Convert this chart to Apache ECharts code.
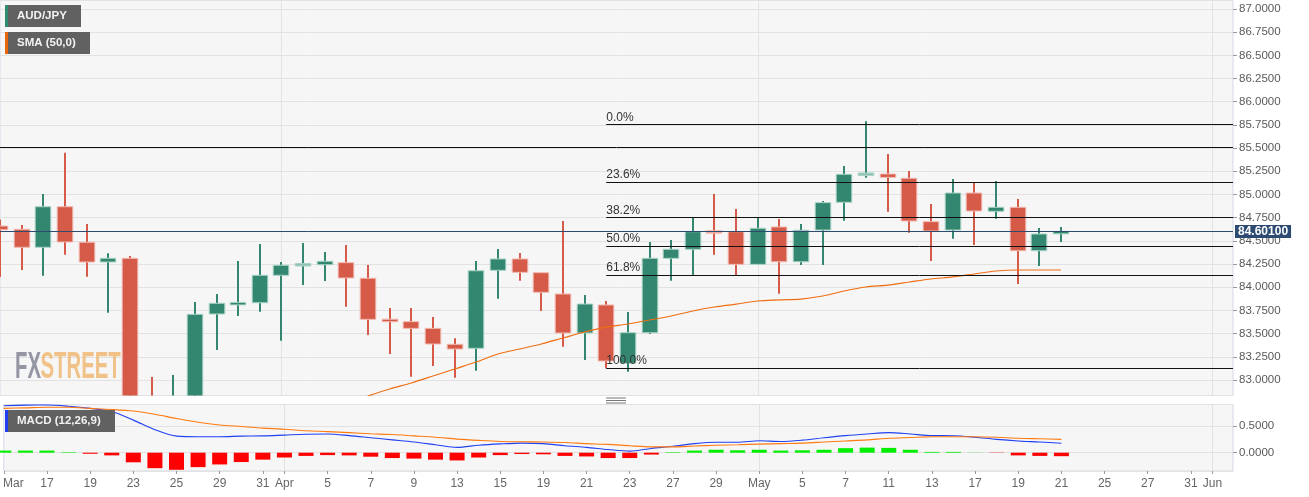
<!DOCTYPE html>
<html><head><meta charset="utf-8">
<script src="https://cdn.jsdelivr.net/npm/echarts@6/dist/echarts.min.js"></script>
<style>html,body{margin:0;padding:0;background:#ffffff;}#c{width:1309px;height:497px;}</style>
</head><body><div id="c"></div>
<script>
// ---------- DATA ----------
const dates = ['2021-03-15','2021-03-16','2021-03-17','2021-03-18','2021-03-19','2021-03-22','2021-03-23','2021-03-24','2021-03-25','2021-03-26',
'2021-03-29','2021-03-30','2021-03-31','2021-04-01','2021-04-02','2021-04-05','2021-04-06','2021-04-07','2021-04-08','2021-04-09',
'2021-04-12','2021-04-13','2021-04-14','2021-04-15','2021-04-16','2021-04-19','2021-04-20','2021-04-21','2021-04-22','2021-04-23',
'2021-04-26','2021-04-27','2021-04-28','2021-04-29','2021-04-30','2021-05-03','2021-05-04','2021-05-05','2021-05-06','2021-05-07',
'2021-05-10','2021-05-11','2021-05-12','2021-05-13','2021-05-14','2021-05-17','2021-05-18','2021-05-19','2021-05-20','2021-05-21',
'2021-05-24','2021-05-25','2021-05-26','2021-05-27','2021-05-28','2021-05-31','2021-06-01'];

const open  = [84.66,84.625,84.431,84.868,84.485,84.272,84.312,82.70,82.45,82.62,
83.712,83.815,83.833,84.129,84.240,84.243,84.265,84.097,83.654,83.629,
83.557,83.385,83.342,84.183,84.305,84.157,83.927,83.507,83.809,83.180,
83.510,84.312,84.409,84.600,84.599,84.247,84.650,84.275,84.617,84.916,
85.215,85.221,85.175,84.707,84.617,85.016,84.819,84.862,84.394,84.577];
const close = [84.62,84.431,84.868,84.488,84.272,84.312,82.70,82.45,82.62,83.708,
83.827,83.832,84.129,84.237,84.246,84.280,84.100,83.654,83.630,83.557,
83.388,83.334,84.178,84.305,84.161,83.946,83.507,83.819,83.205,83.510,
84.312,84.409,84.599,84.592,84.247,84.636,84.275,84.614,84.912,85.218,
85.222,85.185,84.714,84.607,85.016,84.822,84.862,84.394,84.574,84.601];
const low   = [84.11,84.186,84.125,84.351,84.114,83.726,82.55,82.30,82.20,82.50,
83.323,83.690,83.736,83.424,84.024,84.067,83.790,83.485,83.280,83.036,
83.151,83.025,83.100,83.877,84.071,83.744,83.359,83.216,83.126,83.090,
83.496,84.071,84.132,84.351,84.132,84.247,83.931,84.240,84.240,84.718,
85.181,84.815,84.588,84.283,84.523,84.455,84.739,84.035,84.229,84.488];
const high  = [84.73,84.671,85.005,85.451,84.682,84.366,84.337,83.032,83.054,83.841,
83.927,84.283,84.466,84.272,84.477,84.380,84.455,84.240,83.776,83.776,
83.679,83.450,84.283,84.412,84.369,84.160,84.714,83.916,83.852,83.733,
84.488,84.509,84.750,85.005,84.844,84.750,84.736,84.682,84.930,85.307,
85.790,85.437,85.253,84.898,85.167,85.127,85.146,84.951,84.639,84.650];

const smaStartDate = '2021-04-05';
const sma50 = [82.633,82.730,82.827,82.903,82.968,83.043,83.119,83.194,83.280,83.334,
83.388,83.453,83.518,83.571,83.604,83.647,83.690,83.744,83.787,83.819,
83.852,83.863,83.873,83.906,83.960,84.003,84.024,84.057,84.089,84.111,
84.143,84.175,84.186,84.186,84.186];

const macdLine = [0.88,0.89,0.893,0.87,0.83,0.77,0.61,0.43,0.31,0.30,
0.30,0.31,0.315,0.33,0.345,0.35,0.32,0.28,0.24,0.20,
0.15,0.10,0.14,0.165,0.18,0.17,0.13,0.10,0.06,0.03,
0.08,0.12,0.17,0.195,0.195,0.225,0.21,0.235,0.28,0.32,
0.35,0.375,0.35,0.32,0.318,0.29,0.25,0.22,0.20,0.176];
const signalLine = [0.83,0.84,0.85,0.85,0.83,0.81,0.78,0.72,0.64,0.57,
0.52,0.49,0.46,0.44,0.41,0.395,0.375,0.355,0.34,0.315,
0.29,0.255,0.23,0.21,0.205,0.20,0.19,0.17,0.155,0.13,
0.11,0.11,0.125,0.14,0.15,0.16,0.17,0.18,0.20,0.22,
0.24,0.27,0.285,0.30,0.30,0.30,0.29,0.27,0.26,0.25];
const histogram = [0.04,0.04,0.04,0.01,-0.02,-0.05,-0.18,-0.29,-0.32,-0.27,
-0.22,-0.175,-0.13,-0.09,-0.06,-0.045,-0.05,-0.075,-0.10,-0.11,
-0.13,-0.145,-0.09,-0.045,-0.025,-0.03,-0.06,-0.07,-0.10,-0.10,
-0.035,0.01,0.04,0.055,0.045,0.055,0.04,0.045,0.055,0.085,
0.095,0.09,0.055,0.015,0.015,0.003,-0.005,-0.05,-0.06,-0.065];

const tickDates = ['2021-03-15','2021-03-17','2021-03-19','2021-03-23','2021-03-25','2021-03-29','2021-03-31','2021-04-01',
'2021-04-05','2021-04-07','2021-04-09','2021-04-13','2021-04-15','2021-04-19','2021-04-21','2021-04-23','2021-04-27',
'2021-04-29','2021-05-03','2021-05-05','2021-05-07','2021-05-11','2021-05-13','2021-05-17','2021-05-19','2021-05-21',
'2021-05-25','2021-05-27','2021-05-31','2021-06-01'];
const tickTexts = ['Mar','17','19','23','25','29','31','Apr','5','7','9','13','15','19','21','23','27','29','May','5','7','11','13','17','19','21','25','27','31','Jun'];
const monthStarts = ['2021-04-01','2021-05-03','2021-06-01'];

const fibHigh = 85.757, fibLow = 83.129;
const fibRatios = [0, 0.236, 0.382, 0.5, 0.618, 1.0];
const fibLabels = ['0.0%','23.6%','38.2%','50.0%','61.8%','100.0%'];
const fibStartDate = '2021-04-22';
const extraLevel = 85.509;
const lastPrice = 84.601;

// ---------- BUILD ----------
const idx = d => dates.indexOf(d);
const candleData = open.map((o, i) => [i, o, close[i], low[i], high[i]]);
const s0 = idx(smaStartDate);
const smaData = sma50.map((v, i) => [s0 + i, v]);
const macdData = macdLine.map((v, i) => [i, v]);
const sigData = signalLine.map((v, i) => [i, v]);
const histData = histogram.map((v, i) => [i, v]);
const tickVals = tickDates.map(idx);
const labelVals = tickVals.slice(); labelVals[0] = labelVals[0] + 0.44;
const labelMap = {}; tickVals.forEach((v, i) => labelMap[v] = tickTexts[i]);
const fibStart = idx(fibStartDate);

const X_MAX = 56.95;
const FONT = '"Liberation Sans", Arial, sans-serif';
const GREEN = '#33866f', RED = '#d55a47';

function renderCandle(params, api) {
  const x = api.value(0), o = api.value(1), c = api.value(2), l = api.value(3), h = api.value(4);
  const pO = api.coord([x, o]), pC = api.coord([x, c]), pL = api.coord([x, l]), pH = api.coord([x, h]);
  const w = api.size([1, 0])[0] * 0.72;
  const up = c >= o;
  const col = up ? GREEN : RED;
  let top = Math.min(pO[1], pC[1]);
  let hh = Math.abs(pO[1] - pC[1]);
  const flat = hh < 1;
  if (hh < 2.5) { top = (pO[1] + pC[1]) / 2 - 1.25; hh = 2.5; }
  const cx = Math.round(pO[0]);
  const bodyFill = flat ? (up ? '#8fc2b3' : '#eda398') : col;
  return {
    type: 'group',
    children: [
      { type: 'line', shape: { x1: cx, y1: pH[1], x2: cx, y2: pL[1] }, style: { stroke: col, lineWidth: 2 } },
      { type: 'rect', shape: { x: cx - w / 2, y: top, width: w, height: hh },
        style: { fill: bodyFill, stroke: up ? '#a9d3c6' : '#f2b9b0', lineWidth: 1 } }
    ]
  };
}

const fibMarks = fibRatios.map((r, i) => {
  const v = +(fibHigh - (fibHigh - fibLow) * r).toFixed(4);
  return [
    { coord: [fibStart, v], label: { formatter: fibLabels[i] } },
    { coord: [X_MAX, v] }
  ];
});

const chart = echarts.init(document.getElementById('c'), null, { renderer: 'canvas' });
const yAxisCommon = {
  type: 'value', position: 'right',
  axisLine: { show: false, onZero: false },
  axisTick: { show: true, inside: false, length: 4, lineStyle: { color: '#999' } },
  axisLabel: { showMinLabel: false, showMaxLabel: false, formatter: v => v.toFixed(4), color: '#5a5a5a', fontSize: 11.5, margin: 6, fontFamily: FONT },
  splitLine: { show: true, lineStyle: { color: '#e2e2e2', width: 1 } }
};
const monthMark = {
  silent: true, symbol: 'none', z: 1, label: { show: false },
  lineStyle: { color: '#e2e2e2', width: 1, type: 'solid' },
  data: monthStarts.map(d => ({ xAxis: idx(d) }))
};
const option = {
  animation: false,
  backgroundColor: '#ffffff',
  textStyle: { fontFamily: FONT },
  grid: [
    { left: 0, top: 0.5, width: 1233, height: 395, show: true, backgroundColor: '#f6f6f6', borderColor: '#d3d9e7', borderWidth: 1 },
    { left: 0, top: 404.5, width: 1233, height: 66.5, show: true, backgroundColor: '#f6f6f6', borderColor: '#d3d9e7', borderWidth: 1 }
  ],
  xAxis: [
    { type: 'value', gridIndex: 0, min: 0, max: X_MAX, show: false, axisLine: { onZero: false }, splitLine: { show: false } },
    { type: 'value', gridIndex: 1, min: 0, max: X_MAX, position: 'bottom',
      axisLine: { show: false, onZero: false },
      splitLine: { show: false },
      axisTick: { show: true, customValues: tickVals, length: 3, lineStyle: { color: '#999' } },
      axisLabel: { customValues: labelVals, formatter: v => labelMap[Math.round(v)] || '', color: '#666', fontSize: 12, margin: 7, fontFamily: FONT } }
  ],
  yAxis: [
    Object.assign({}, yAxisCommon, { gridIndex: 0, min: 82.833, max: 87.0916, minInterval: 0.25, maxInterval: 0.25 }),
    Object.assign({}, yAxisCommon, { gridIndex: 1, min: -0.3427, max: 0.9026, minInterval: 0.5, maxInterval: 0.5 })
  ],
  series: [
    { type: 'line', xAxisIndex: 0, yAxisIndex: 0, data: [], z: 1, silent: true, markLine: monthMark },
    { type: 'line', xAxisIndex: 1, yAxisIndex: 1, data: [], z: 1, silent: true, markLine: monthMark },
    { name: 'AUD/JPY', type: 'custom', xAxisIndex: 0, yAxisIndex: 0, clip: true, z: 3, silent: true,
      renderItem: renderCandle, encode: { x: 0, y: [1, 2, 3, 4] }, data: candleData },
    { name: 'SMA (50,0)', type: 'line', xAxisIndex: 0, yAxisIndex: 0, data: smaData, z: 4, silent: true,
      showSymbol: false, smooth: 0.3, clip: true, lineStyle: { color: '#ef6d12', width: 1.2 } },
    { type: 'line', xAxisIndex: 0, yAxisIndex: 0, data: [], z: 5, silent: true,
      markLine: { silent: true, symbol: 'none', animation: false, z: 6,
        lineStyle: { color: '#111', width: 1, type: 'solid' },
        label: { show: true, position: 'insideStartTop', distance: [0, 1], color: '#333', fontSize: 12, fontFamily: FONT },
        data: fibMarks.concat([
          { yAxis: extraLevel, label: { show: false } },
          { yAxis: lastPrice, lineStyle: { color: '#2d4a6f', width: 1 },
            label: { show: true, position: 'end', formatter: lastPrice.toFixed(5), distance: 2, color: '#fff', fontWeight: 'bold', fontSize: 12,
              backgroundColor: '#2c4a72', padding: [1, 3, 0, 3] } }
        ]) } },
    { name: 'hist', type: 'bar', xAxisIndex: 1, yAxisIndex: 1, data: histData, barWidth: 15, z: 3, silent: true,
      itemStyle: { color: p => p.value[1] >= 0 ? '#00ee00' : '#ff0000' } },
    { name: 'MACD', type: 'line', xAxisIndex: 1, yAxisIndex: 1, data: macdData, z: 4, silent: true,
      showSymbol: false, smooth: 0.3, lineStyle: { color: '#2041f2', width: 1.1 } },
    { name: 'Signal', type: 'line', xAxisIndex: 1, yAxisIndex: 1, data: sigData, z: 4, silent: true,
      showSymbol: false, smooth: 0.3, lineStyle: { color: '#ff7a10', width: 1.1 } }
  ],
  graphic: [
    { type: 'text', x: 15, y: 349, z: 1, scaleX: 0.55, silent: true,
      style: { text: 'FX', font: 'bold 37px "Liberation Sans", Arial, sans-serif', fill: 'rgba(130,133,148,0.85)', textVerticalAlign: 'top' } },
    { type: 'text', x: 40.5, y: 349, z: 1, scaleX: 0.55, silent: true,
      style: { text: 'STREET', font: 'bold 37px "Liberation Sans", Arial, sans-serif', fill: 'rgba(240,185,115,0.85)', textVerticalAlign: 'top' } },
    { type: 'rect', shape: { x: 5, y: 5, width: 76, height: 22 }, style: { fill: '#616161' }, z: 100, silent: true },
    { type: 'rect', shape: { x: 5, y: 5, width: 3, height: 22 }, style: { fill: '#2f8a72' }, z: 101, silent: true },
    { type: 'text', x: 17, y: 16, z: 101, silent: true, style: { text: 'AUD/JPY', font: 'bold 11.5px "Liberation Sans", Arial, sans-serif', fill: '#f2f2f2', textVerticalAlign: 'middle' } },
    { type: 'rect', shape: { x: 5, y: 32, width: 85, height: 22 }, style: { fill: '#616161' }, z: 100, silent: true },
    { type: 'rect', shape: { x: 5, y: 32, width: 3, height: 22 }, style: { fill: '#e8650c' }, z: 101, silent: true },
    { type: 'text', x: 17, y: 43, z: 101, silent: true, style: { text: 'SMA (50,0)', font: 'bold 11.5px "Liberation Sans", Arial, sans-serif', fill: '#f2f2f2', textVerticalAlign: 'middle' } },
    { type: 'rect', shape: { x: 5, y: 410, width: 110, height: 22 }, style: { fill: '#616161' }, z: 100, silent: true },
    { type: 'rect', shape: { x: 5, y: 410, width: 3, height: 22 }, style: { fill: '#1f3ff0' }, z: 101, silent: true },
    { type: 'text', x: 17, y: 421, z: 101, silent: true, style: { text: 'MACD (12,26,9)', font: 'bold 11.5px "Liberation Sans", Arial, sans-serif', fill: '#f2f2f2', textVerticalAlign: 'middle' } },
    { type: 'line', shape: { x1: 606, y1: 398, x2: 626, y2: 398 }, style: { stroke: '#777', lineWidth: 1 }, z: 100, silent: true },
    { type: 'line', shape: { x1: 606, y1: 400.5, x2: 626, y2: 400.5 }, style: { stroke: '#777', lineWidth: 1 }, z: 100, silent: true },
    { type: 'line', shape: { x1: 606, y1: 403, x2: 626, y2: 403 }, style: { stroke: '#777', lineWidth: 1 }, z: 100, silent: true }
  ]
};
chart.setOption(option);
</script>
</body></html>
